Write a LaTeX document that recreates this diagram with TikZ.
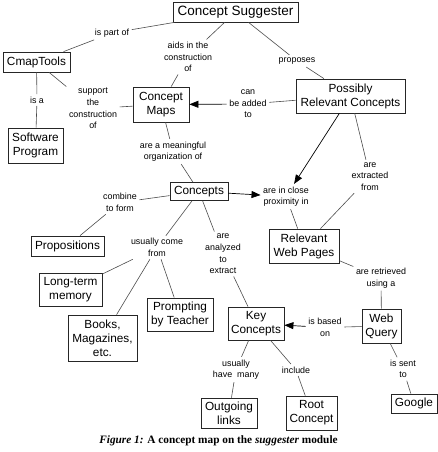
\documentclass[tikz,border=0pt]{standalone}
\usepackage{fontspec}
\setmainfont{Liberation Serif}
\newfontfamily\arialfont{Liberation Sans}
\usetikzlibrary{arrows.meta}
\tikzset{
  box/.style={draw=black!85, line width=0.8pt, align=center, inner sep=0pt,
    font=\arialfont\fontsize{11.8}{14}\selectfont},
  lab/.style={align=center, inner sep=2.5pt, font=\arialfont\fontsize{8.9}{11.6}\selectfont},
  conn/.style={draw=black!70, line width=0.6pt},
  arr/.style={draw=black, line width=0.7pt, -{Triangle[length=9pt,width=7pt]}},
}
\begin{document}
\begin{tikzpicture}[x=1pt,y=-1pt]
\useasboundingbox (0,0) rectangle (438,452);
% concept boxes
\node[box, minimum width=125pt, minimum height=20pt, font=\arialfont\fontsize{13.5}{15}\selectfont] (sug) at (235.5,12) {Concept Suggester};
\node[box, minimum width=67pt, minimum height=20pt] (cmap) at (36.5,62) {CmapTools};
\node[box, minimum width=55pt, minimum height=35pt] (soft) at (35.5,145.5) {Software\\Program};
\node[box, minimum width=56pt, minimum height=35pt] (maps) at (161,104.5) {Concept\\Maps};
\node[box, minimum width=109pt, minimum height=34pt] (prc) at (350.5,96) {Possibly\\Relevant Concepts};
\node[box, minimum width=58pt, minimum height=18pt] (conc) at (199,191.5) {Concepts};
\node[box, minimum width=73pt, minimum height=20pt] (prop) at (67.5,246) {Propositions};
\node[box, minimum width=63pt, minimum height=33pt] (ltm) at (70.5,289.5) {Long-term\\memory};
\node[box, minimum width=69pt, minimum height=46pt] (books) at (102.5,338) {Books,\\Magazines,\\etc.};
\node[box, minimum width=66pt, minimum height=33pt] (prompt) at (180,314.5) {Prompting\\by Teacher};
\node[box, minimum width=70pt, minimum height=34pt] (rwp) at (304,246) {Relevant\\Web Pages};
\node[box, minimum width=56pt, minimum height=33pt] (key) at (256,323.5) {Key\\Concepts};
\node[box, minimum width=39pt, minimum height=34pt] (wq) at (381.5,326) {Web\\Query};
\node[box, minimum width=56pt, minimum height=30pt] (out) at (229,413) {Outgoing\\links};
\node[box, minimum width=51pt, minimum height=34pt] (root) at (311.5,413) {Root\\Concept};
\node[box, minimum width=46pt, minimum height=19pt] (goog) at (414,403.5) {Google};
% link labels
\node[lab] (lpart) at (112,33) {is part of};
\node[lab] (laids) at (188,57) {aids in the\\construction\\of};
\node[lab] (lpro) at (297,61) {proposes};
\node[lab] (ladd) at (248,104) {can\\be added\\to};
\node[lab] (lsupp) at (93,108.5) {support\\the\\construction\\of};
\node[lab] (lisa) at (37,100) {is a};
\node[lab] (lmean) at (173,151.5) {are a meaningful\\organization of};
\node[lab] (lcomb) at (120,202.5) {combine\\to form};
\node[lab] (lcome) at (157,247.5) {usually come\\from};
\node[lab] (lanal) at (223,254) {are\\analyzed\\to\\extract};
\node[lab] (lprox) at (286,196.5) {are in close\\proximity in};
\node[lab] (lextr) at (370,176.5) {are\\extracted\\from};
\node[lab] (lretr) at (381,278) {are retrieved\\using a};
\node[lab] (lbased) at (325,327.5) {is based\\on};
\node[lab] (lhave) at (236,369.5) {usually\\have~ many};
\node[lab] (lincl) at (296,370) {include};
\node[lab] (lsent) at (403,369) {is sent\\to};
% connectors
\draw[conn] (cmap) -- (lpart);
\draw[conn] (lpart) -- (sug);
\draw[conn] (sug) -- (laids);
\draw[conn] (laids) -- (maps);
\draw[conn] (sug) -- (lpro);
\draw[conn] (lpro) -- (prc);
\draw[conn] (prc) -- (ladd);
\draw[arr] (ladd) -- (maps);
\draw[conn] (cmap) -- (lsupp);
\draw[conn] (lsupp) -- (maps);
\draw[conn] (cmap) -- (lisa);
\draw[conn] (lisa) -- (soft);
\draw[conn] (maps) -- (lmean);
\draw[conn] (lmean) -- (conc);
\draw[conn] (conc) -- (lcomb);
\draw[conn] (lcomb) -- (prop);
\draw[conn] (conc) -- (lcome);
\draw[conn] (lcome) -- (ltm);
\draw[conn] (lcome) -- (books);
\draw[conn] (lcome) -- (prompt);
\draw[conn] (conc) -- (lanal);
\draw[conn] (lanal) -- (key);
\draw[arr] (conc) -- (lprox);
\draw[arr] (prc) -- (lprox);
\draw[conn] (lprox) -- (rwp);
\draw[conn] (prc) -- (lextr);
\draw[conn] (lextr) -- (rwp);
\draw[conn] (rwp) -- (lretr);
\draw[conn] (lretr) -- (wq);
\draw[conn] (wq) -- (lbased);
\draw[arr] (lbased) -- (key);
\draw[conn] (key) -- (lhave);
\draw[conn] (lhave) -- (out);
\draw[conn] (key) -- (lincl);
\draw[conn] (lincl) -- (root);
\draw[conn] (wq) -- (lsent);
\draw[conn] (lsent) -- (goog);
% caption
\node[inner sep=0pt, font=\fontsize{11.3}{13}\selectfont] (cap) at (218.5,441) {\textbf{\textit{Figure 1:} A concept map on the \textit{suggester} module}};
\end{tikzpicture}
\end{document}
